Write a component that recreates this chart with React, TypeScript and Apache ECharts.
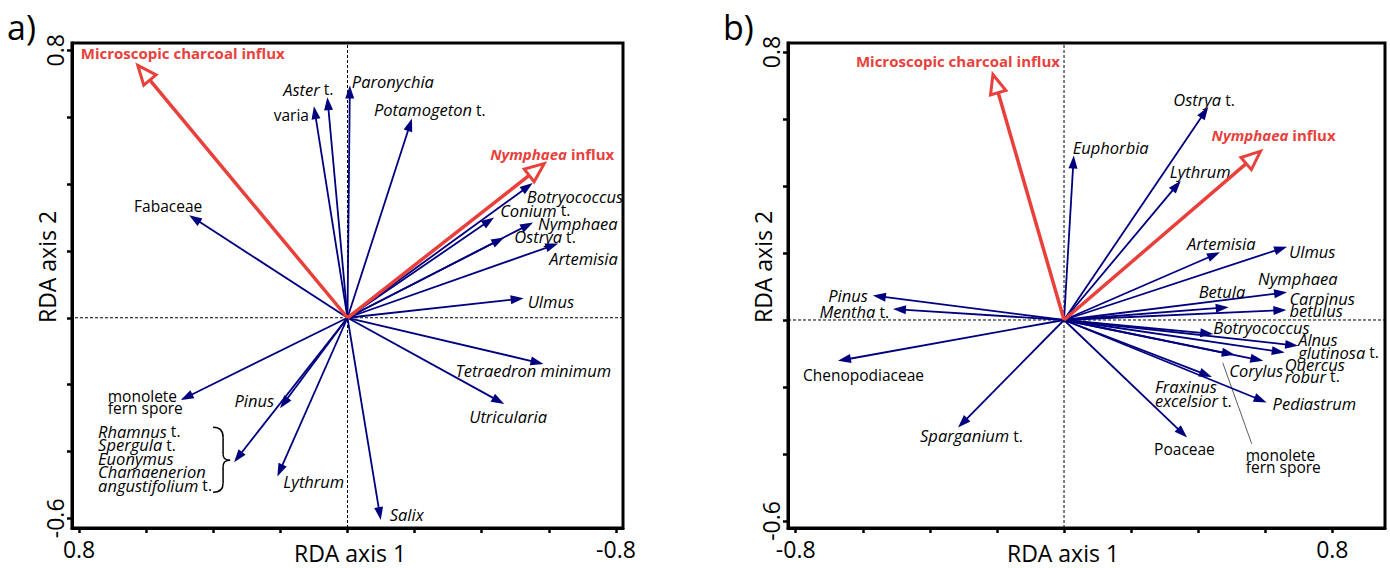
import React, { useEffect, useRef } from 'react';
import * as echarts from 'echarts';

const FONT = '"Open Sans", sans-serif';
const NAVY = '#00007F';
const RED = '#E8413C';

const X_TICKS = [-0.8, -0.6, -0.4, -0.2, 0, 0.2, 0.4, 0.6, 0.8];
const Y_TICKS = [-0.6, -0.4, -0.2, 0, 0.2, 0.4, 0.6, 0.8];
const X_LABELS = [-0.8, 0.8];
const Y_LABELS = [-0.6, 0.8];

// ---------- Panel a ----------
const expLabelsA = ['Microscopic charcoal influx', '{i|Nymphaea} influx'];
const expXA = [0.625, -0.586];
const expYA = [0.755, 0.461];

const spLabelsA = [
  '{i|Aster} t.',
  'varia',
  '{i|Paronychia}',
  '{i|Potamogeton} t.',
  '{i|Botryococcus}',
  '{i|Conium} t.',
  '{i|Nymphaea}',
  '{i|Ostrya} t.',
  '{i|Artemisia}',
  '{i|Ulmus}',
  'Fabaceae',
  'monolete\nfern spore',
  '{i|Pinus}',
  '{i|Rhamnus} t.\n{i|Spergula} t.\n{i|Euonymus}\n{i|Chamaenerion}\n{i|angustifolium} t.',
  '{i|Lythrum}',
  '{i|Salix}',
  '{i|Tetraedron minimum}',
  '{i|Utricularia}',
];
const spXA = [0.06, 0.1, -0.007, -0.192, -0.552, -0.437, -0.553, -0.467, -0.628, -0.525, 0.472, 0.497, 0.201, 0.338, 0.209, -0.099, -0.584, -0.467];
const spYA = [0.66, 0.633, 0.695, 0.596, 0.403, 0.3, 0.285, 0.24, 0.222, 0.058, 0.307, -0.246, -0.271, -0.432, -0.475, -0.605, -0.138, -0.258];

// label layout (pixel offsets from arrow tip, alignment, line height)
const expLayoutA: [number, number, string, number][] = [
  [-57, -12, 'left', 14],
  [-54, -10, 'left', 14],
];
const spLayoutA: [number, number, string, number][] = [
  [6, -8, 'right', 14],
  [-5, 9, 'right', 14],
  [2, -4, 'left', 14],
  [-38, -9, 'left', 14],
  [-6, 13, 'left', 14],
  [6, -7, 'left', 14],
  [5, 1, 'left', 14],
  [10, -1, 'left', 14],
  [-9, 15, 'left', 14],
  [4, 3, 'left', 14],
  [-55, -9, 'left', 14],
  [-73, 2, 'left', 12],
  [-6, -8, 'right', 14],
  [-136, -4, 'left', 13.5],
  [6, 5, 'left', 14],
  [9, -5, 'left', 14],
  [-88, 7, 'left', 14],
  [-35, 13, 'left', 14],
];

// ---------- Panel b ----------
const expLabelsB = ['Microscopic charcoal influx', '{i|Nymphaea} influx'];
const expXB = [-0.212, 0.586];
const expYB = [0.733, 0.504];

const spLabelsB = [
  '{i|Ostrya} t.',
  '{i|Euphorbia}',
  '{i|Lythrum}',
  '{i|Artemisia}',
  '{i|Ulmus}',
  '{i|Nymphaea}',
  '{i|Betula}',
  '{i|Carpinus}\n{i|betulus}',
  '{i|Botryococcus}',
  '{i|Alnus}\n{i|glutinosa} t.',
  '{i|Quercus}\n{i|robur} t.',
  '{i|Corylus}',
  'monolete\nfern spore',
  '{i|Fraxinus}\n{i|excelsior} t.',
  '{i|Pediastrum}',
  'Poaceae',
  '{i|Pinus}',
  '{i|Mentha} t.',
  'Chenopodiaceae',
  '{i|Sparganium} t.',
];
const spXB = [0.43, 0.029, 0.348, 0.465, 0.665, 0.665, 0.491, 0.663, 0.445, 0.698, 0.658, 0.594, 0.509, 0.441, 0.604, 0.367, -0.57, -0.51, -0.674, -0.316];
const spYB = [0.636, 0.491, 0.416, 0.202, 0.219, 0.083, 0.038, 0.03, -0.042, -0.077, -0.097, -0.122, -0.104, -0.17, -0.246, -0.351, 0.073, 0.033, -0.122, -0.321];

const expLayoutB: [number, number, string, number][] = [
  [67, -13, 'right', 14],
  [-49, -16, 'left', 14],
];
const spLayoutB: [number, number, string, number][] = [
  [-35, -7, 'left', 14],
  [-1, -8, 'left', 14],
  [-11, -9, 'left', 14],
  [-33, -9, 'left', 14],
  [2, 5, 'left', 14],
  [-29, -14, 'left', 14],
  [-30, -16, 'left', 14],
  [3, -5, 'left', 12],
  [0, -7, 'left', 14],
  [0, 0, 'left', 13],
  [0, 18, 'left', 12],
  [-34, 10, 'left', 14],
  [11, 106, 'left', 12],
  [-57, 17, 'left', 14],
  [6, 1, 'left', 14],
  [-33, 11, 'left', 14],
  [-5, 0, 'right', 14],
  [-4, 3, 'right', 14],
  [-35, 14, 'left', 14],
  [-38, 8, 'left', 14],
];

const RANGE_A = { xMin: -0.821, xMax: 0.821, yMin: -0.629, yMax: 0.822 };
const RANGE_B = { xMin: -0.823, xMax: 0.957, yMin: -0.621, yMax: 0.827 };

const REG_SIZE = 15.5;
const ITA_SIZE = 16.5;

function makeRenderer(labels: string[], layout: [number, number, string, number][], red: boolean) {
  return (params: any, api: any) => {
    const i = params.dataIndex;
    const tip = api.coord([api.value(0), api.value(1)]);
    const o = api.coord([0, 0]);
    const dx = tip[0] - o[0];
    const dy = tip[1] - o[1];
    const len = Math.hypot(dx, dy) || 1;
    const ux = dx / len;
    const uy = dy / len;
    const L = red ? 19 : 13;
    const W = red ? 8 : 4.5;
    const bx = tip[0] - ux * L;
    const by = tip[1] - uy * L;
    const nx = -uy;
    const ny = ux;
    const color = red ? RED : NAVY;
    const lay = layout[i];
    const lh = lay[3];
    const weight = red ? 'bold' : 'normal';
    const txtColor = red ? RED : '#000';
    const regSize = red ? 15 : REG_SIZE;
    const itaSize = red ? 15 : ITA_SIZE;
    const children: any[] = [
      {
        type: 'line',
        shape: { x1: o[0], y1: o[1], x2: red ? bx : tip[0] - ux * L * 0.7, y2: red ? by : tip[1] - uy * L * 0.7 },
        style: { stroke: color, lineWidth: red ? 3.5 : 1.8 },
      },
      {
        type: 'polygon',
        shape: { points: [[tip[0], tip[1]], [bx + nx * W, by + ny * W], [bx - nx * W, by - ny * W]] },
        style: red ? { fill: '#fff', stroke: RED, lineWidth: 3, lineJoin: 'miter' } : { fill: NAVY },
      },
      {
        type: 'text',
        x: tip[0] + lay[0],
        y: tip[1] + lay[1],
        style: {
          text: labels[i],
          fill: txtColor,
          fontSize: regSize,
          fontFamily: FONT,
          fontWeight: weight,
          fontStyle: 'normal',
          align: lay[2],
          verticalAlign: 'middle',
          lineHeight: lh,
          rich: {
            i: { fontStyle: 'italic', fontWeight: weight, fontSize: itaSize, fontFamily: FONT, fill: txtColor, lineHeight: lh },
          },
        },
      },
    ];
    const label = labels[i];
    if (label.indexOf('Rhamnus') >= 0) {
      const tx = tip[0];
      const ty = tip[1];
      const st = { stroke: '#000', lineWidth: 1.5, fill: 'none' };
      children.push(
        { type: 'bezierCurve', shape: { x1: tx - 21, y1: ty - 35, cpx1: tx - 14, cpy1: ty - 35, cpx2: tx - 11, cpy2: ty - 31, x2: tx - 11, y2: ty - 25 }, style: st },
        { type: 'line', shape: { x1: tx - 11, y1: ty - 25, x2: tx - 11, y2: ty - 8 }, style: st },
        { type: 'bezierCurve', shape: { x1: tx - 11, y1: ty - 8, cpx1: tx - 11, cpy1: ty - 4, cpx2: tx - 8, cpy2: ty - 2, x2: tx - 4, y2: ty - 2 }, style: st },
        { type: 'bezierCurve', shape: { x1: tx - 4, y1: ty - 2, cpx1: tx - 8, cpy1: ty - 2, cpx2: tx - 11, cpy2: ty, x2: tx - 11, y2: ty + 4 }, style: st },
        { type: 'line', shape: { x1: tx - 11, y1: ty + 4, x2: tx - 11, y2: ty + 21 }, style: st },
        { type: 'bezierCurve', shape: { x1: tx - 11, y1: ty + 21, cpx1: tx - 11, cpy1: ty + 27, cpx2: tx - 14, cpy2: ty + 30, x2: tx - 21, y2: ty + 30 }, style: st }
      );
    }
    if (label.indexOf('monolete') >= 0 && lay[1] > 50) {
      children.push({
        type: 'line',
        shape: { x1: tip[0] - 12, y1: tip[1] + 8, x2: tip[0] + 17, y2: tip[1] + 89 },
        style: { stroke: '#333', lineWidth: 0.8 },
      });
    }
    return { type: 'group', children };
  };
}

function axisPair(gridIndex: number, r: any, inverse: boolean) {
  const fmt = (v: number) => String(Math.round(v * 10) / 10);
  const lineStyle = { color: '#000', width: 3 };
  const tickStyle = { color: '#000', width: 2.5 };
  return {
    x: {
      type: 'value', gridIndex, min: r.xMin, max: r.xMax, inverse,
      axisLine: { show: true, onZero: false, lineStyle },
      axisTick: { show: true, inside: false, length: 5, lineStyle: tickStyle, customValues: X_TICKS },
      axisLabel: { show: true, customValues: X_LABELS, formatter: fmt, fontSize: 23, fontFamily: FONT, color: '#000', margin: 9 },
      splitLine: { show: false },
    },
    y: {
      type: 'value', gridIndex, min: r.yMin, max: r.yMax,
      axisLine: { show: true, onZero: false, lineStyle },
      axisTick: { show: true, inside: false, length: 5, lineStyle: tickStyle, customValues: Y_TICKS },
      axisLabel: { show: true, customValues: Y_LABELS, formatter: fmt, fontSize: 23, fontFamily: FONT, color: '#000', rotate: 90, margin: 6 },
      splitLine: { show: false },
    },
  };
}

function zeroLines(idx: number, r: any) {
  const ls = { color: '#000', width: 1, type: [3, 2] };
  return [
    { type: 'line', xAxisIndex: idx, yAxisIndex: idx, data: [[0, r.yMin], [0, r.yMax]], symbol: 'none', lineStyle: ls, silent: true, z: 1 },
    { type: 'line', xAxisIndex: idx, yAxisIndex: idx, data: [[r.xMin, 0], [r.xMax, 0]], symbol: 'none', lineStyle: ls, silent: true, z: 1 },
  ];
}

function arrowSeries(idx: number, xs: number[], ys: number[], labels: string[], layout: any, red: boolean) {
  return {
    type: 'custom', xAxisIndex: idx, yAxisIndex: idx, clip: false, silent: true, z: red ? 4 : 3,
    encode: { x: 0, y: 1 },
    data: xs.map((x, i) => [x, ys[i]]),
    renderItem: makeRenderer(labels, layout, red),
  };
}

export default function App() {
  const ref = useRef<HTMLDivElement>(null);
  useEffect(() => {
    if (!ref.current) return;
    const chart = echarts.init(ref.current, null, { renderer: 'svg' });
    const a = axisPair(0, RANGE_A, true);
    const b = axisPair(1, RANGE_B, false);
    const titleStyle = { fontSize: 23, fontFamily: FONT, fill: '#000', align: 'center', verticalAlign: 'middle' };
    chart.setOption({
      animation: false,
      backgroundColor: '#fff',
      grid: [
        { left: 72, right: 767, top: 43, bottom: 40, show: true, borderColor: '#000', borderWidth: 3, backgroundColor: 'transparent' },
        { left: 788, right: 5, top: 43, bottom: 40, show: true, borderColor: '#000', borderWidth: 3, backgroundColor: 'transparent' },
      ],
      xAxis: [a.x, b.x],
      yAxis: [a.y, b.y],
      series: [
        ...zeroLines(0, RANGE_A),
        ...zeroLines(1, RANGE_B),
        arrowSeries(0, spXA, spYA, spLabelsA, spLayoutA, false),
        arrowSeries(0, expXA, expYA, expLabelsA, expLayoutA, true),
        arrowSeries(1, spXB, spYB, spLabelsB, spLayoutB, false),
        arrowSeries(1, expXB, expYB, expLabelsB, expLayoutB, true),
      ],
      graphic: [
        { type: 'text', x: 7, y: 27, style: { text: 'a)', fontSize: 34, fontFamily: FONT, fill: '#000', verticalAlign: 'middle' } },
        { type: 'text', x: 723, y: 27, style: { text: 'b)', fontSize: 34, fontFamily: FONT, fill: '#000', verticalAlign: 'middle' } },
        { type: 'text', x: 350, y: 553, style: { text: 'RDA axis 1', ...titleStyle } },
        { type: 'text', x: 1063, y: 553, style: { text: 'RDA axis 1', ...titleStyle } },
        { type: 'text', x: 47, y: 267, rotation: Math.PI / 2, style: { text: 'RDA axis 2', ...titleStyle } },
        { type: 'text', x: 763, y: 267, rotation: Math.PI / 2, style: { text: 'RDA axis 2', ...titleStyle } },
      ],
    });
    return () => chart.dispose();
  }, []);
  return <div ref={ref} style={{ width: 1390, height: 568, position: 'absolute', left: 0, top: 0 }} />;
}
